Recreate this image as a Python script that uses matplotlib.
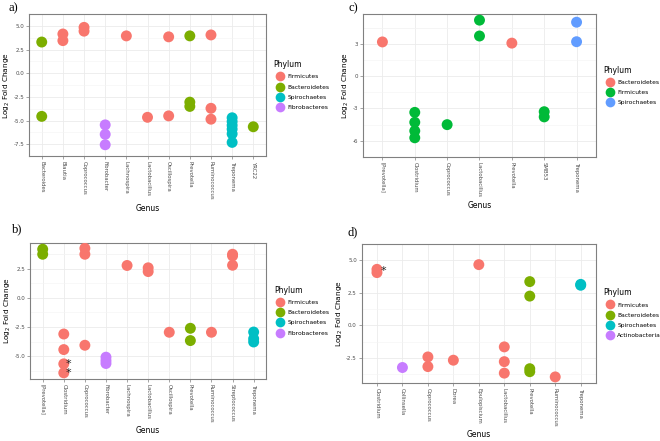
import matplotlib
matplotlib.use("Agg")
import matplotlib.pyplot as plt
from matplotlib.lines import Line2D

# ggplot hue colours
PAL4 = {'Firmicutes': '#F8766D', 'Bacteroidetes': '#7CAE00',
        'Spirochaetes': '#00BFC4', 'Fibrobacteres': '#C77CFF',
        'Actinobacteria': '#C77CFF'}
PAL3 = {'Bacteroidetes': '#F8766D', 'Firmicutes': '#00BA38',
        'Spirochaetes': '#619CFF'}

# ---- panel a ----
a_genera = ['Bacteroides', 'Blautia', 'Coprococcus', 'Fibrobacter', 'Lachnospira',
            'Lactobacillus', 'Oscillospira', 'Prevotella', 'Ruminococcus',
            'Treponema', 'YRC22']
a_genus = ['Bacteroides', 'Bacteroides', 'Blautia', 'Blautia', 'Coprococcus',
           'Coprococcus', 'Fibrobacter', 'Fibrobacter', 'Fibrobacter',
           'Lachnospira', 'Lactobacillus', 'Oscillospira', 'Oscillospira',
           'Prevotella', 'Prevotella', 'Prevotella', 'Ruminococcus',
           'Ruminococcus', 'Ruminococcus', 'Treponema', 'Treponema',
           'Treponema', 'Treponema', 'Treponema', 'Treponema', 'YRC22']
a_lfc = [3.3, -4.55, 4.15, 3.45, 4.85, 4.45, -5.45, -6.45, -7.55,
         3.95, -4.65, 3.85, -4.5, 3.95, -3.05, -3.5, 4.05, -3.7, -4.85,
         -4.7, -5.1, -5.5, -5.9, -6.4, -7.3, -5.65]
a_phylum = ['Bacteroidetes', 'Bacteroidetes', 'Firmicutes', 'Firmicutes',
            'Firmicutes', 'Firmicutes', 'Fibrobacteres', 'Fibrobacteres',
            'Fibrobacteres', 'Firmicutes', 'Firmicutes', 'Firmicutes',
            'Firmicutes', 'Bacteroidetes', 'Bacteroidetes', 'Bacteroidetes',
            'Firmicutes', 'Firmicutes', 'Firmicutes', 'Spirochaetes',
            'Spirochaetes', 'Spirochaetes', 'Spirochaetes', 'Spirochaetes',
            'Spirochaetes', 'Bacteroidetes']
a_legend = ['Firmicutes', 'Bacteroidetes', 'Spirochaetes', 'Fibrobacteres']
a_ticks = [5.0, 2.5, 0.0, -2.5, -5.0, -7.5]

# ---- panel b ----
b_genera = ['[Prevotella]', 'Clostridium', 'Coprococcus', 'Fibrobacter',
            'Lachnospira', 'Lactobacillus', 'Oscillospira', 'Prevotella',
            'Ruminococcus', 'Streptococcus', 'Treponema']
b_genus = ['[Prevotella]', '[Prevotella]', 'Clostridium', 'Clostridium',
           'Clostridium', 'Clostridium', 'Coprococcus', 'Coprococcus',
           'Coprococcus', 'Fibrobacter', 'Fibrobacter', 'Fibrobacter',
           'Lachnospira', 'Lactobacillus', 'Lactobacillus', 'Oscillospira',
           'Prevotella', 'Prevotella', 'Ruminococcus', 'Streptococcus',
           'Streptococcus', 'Streptococcus', 'Treponema', 'Treponema',
           'Treponema']
b_lfc = [4.15, 3.72, -3.1, -4.43, -5.65, -6.42, 4.23, 3.72, -4.06,
         -5.08, -5.37, -5.62, 2.76, 2.56, 2.24, -2.95, -2.61, -3.66,
         -2.95, 3.72, 3.58, 2.78, -2.93, -3.5, -3.78]
b_phylum = ['Bacteroidetes', 'Bacteroidetes', 'Firmicutes', 'Firmicutes',
            'Firmicutes', 'Firmicutes', 'Firmicutes', 'Firmicutes',
            'Firmicutes', 'Fibrobacteres', 'Fibrobacteres', 'Fibrobacteres',
            'Firmicutes', 'Firmicutes', 'Firmicutes', 'Firmicutes',
            'Bacteroidetes', 'Bacteroidetes', 'Firmicutes', 'Firmicutes',
            'Firmicutes', 'Firmicutes', 'Spirochaetes', 'Spirochaetes',
            'Spirochaetes']
b_star = [('Clostridium', -5.65), ('Clostridium', -6.42)]
b_legend = ['Firmicutes', 'Bacteroidetes', 'Spirochaetes', 'Fibrobacteres']
b_ticks = [2.5, 0.0, -2.5, -5.0]

# ---- panel c ----
c_genera = ['[Prevotella]', 'Clostridium', 'Coprococcus', 'Lactobacillus',
            'Prevotella', 'SMB53', 'Treponema']
c_genus = ['[Prevotella]', 'Clostridium', 'Clostridium', 'Clostridium',
           'Clostridium', 'Coprococcus', 'Lactobacillus', 'Lactobacillus',
           'Prevotella', 'SMB53', 'SMB53', 'Treponema', 'Treponema']
c_lfc = [3.17, -3.36, -4.28, -5.08, -5.72, -4.5, 5.19, 3.72, 3.06,
         -3.3, -3.78, 5.0, 3.19]
c_phylum = ['Bacteroidetes', 'Firmicutes', 'Firmicutes', 'Firmicutes',
            'Firmicutes', 'Firmicutes', 'Firmicutes', 'Firmicutes',
            'Bacteroidetes', 'Firmicutes', 'Firmicutes', 'Spirochaetes',
            'Spirochaetes']
c_legend = ['Bacteroidetes', 'Firmicutes', 'Spirochaetes']
c_ticks = [3, 0, -3, -6]

# ---- panel d ----
d_genera = ['Clostridium', 'Collinsella', 'Coprococcus', 'Dorea',
            'Epulopiscium', 'Lactobacillus', 'Prevotella', 'Ruminococcus',
            'Treponema']
d_genus = ['Clostridium', 'Clostridium', 'Collinsella', 'Coprococcus',
           'Coprococcus', 'Dorea', 'Epulopiscium', 'Lactobacillus',
           'Lactobacillus', 'Lactobacillus', 'Prevotella', 'Prevotella',
           'Prevotella', 'Prevotella', 'Ruminococcus', 'Treponema',
           'Treponema']
d_lfc = [4.3, 4.05, -3.22, -2.41, -3.15, -2.66, 4.66, -1.64, -2.77,
         -3.65, 3.36, 2.25, -3.31, -3.54, -3.94, 3.15, 3.08]
d_phylum = ['Firmicutes', 'Firmicutes', 'Actinobacteria', 'Firmicutes',
            'Firmicutes', 'Firmicutes', 'Firmicutes', 'Firmicutes',
            'Firmicutes', 'Firmicutes', 'Bacteroidetes', 'Bacteroidetes',
            'Bacteroidetes', 'Bacteroidetes', 'Firmicutes', 'Spirochaetes',
            'Spirochaetes']
d_star = [('Clostridium', 4.15)]
d_legend = ['Firmicutes', 'Bacteroidetes', 'Spirochaetes', 'Actinobacteria']
d_ticks = [5.0, 2.5, 0.0, -2.5]


def panel(ax, genera, genus, lfc, phylum, pal, legend, ticks, ylim, fmt,
          stars=()):
    xs = [genera.index(g) for g in genus]
    cols = [pal[p] for p in phylum]
    ax.scatter(xs, lfc, c=cols, s=62, zorder=3, linewidths=0)
    for g, v in stars:
        ax.text(genera.index(g) + 0.24, v, '*', fontsize=8, ha='center',
                va='center', color='#222222', zorder=4)
    ax.set_xlim(-0.6, len(genera) - 0.4)
    ax.set_ylim(*ylim)
    ax.set_xticks(range(len(genera)))
    ax.set_xticklabels(genera, rotation=-90, fontsize=3.9, color='#4D4D4D',
                       ha='center', va='top')
    ax.set_yticks(ticks)
    ax.set_yticklabels([fmt.format(t) for t in ticks], fontsize=4.0,
                       color='#4D4D4D')
    step = abs(ticks[0] - ticks[1])
    minors = [t + step / 2 for t in ticks] + [ticks[0] + step / 2, ticks[-1] - step / 2]
    ax.set_yticks(minors, minor=True)
    ax.tick_params(which='minor', length=0)
    ax.tick_params(which='major', length=2, width=0.5, color='#808080', pad=1.5)
    ax.grid(which='major', color='#EBEBEB', linewidth=0.6, zorder=0)
    ax.grid(which='minor', axis='y', color='#F4F4F4', linewidth=0.4, zorder=0)
    ax.set_axisbelow(True)
    for s in ax.spines.values():
        s.set_color('#808080')
        s.set_linewidth(0.8)
    ax.set_xlabel('Genus', fontsize=5.5, labelpad=3)
    ax.set_ylabel('Log$_2$ Fold Change', fontsize=5.3, labelpad=1)
    handles = [Line2D([], [], marker='o', linestyle='', markersize=7,
                      markerfacecolor=pal[p], markeredgewidth=0, label=p)
               for p in legend]
    ax.legend(handles=handles, title='Phylum', frameon=False,
              loc='center left', bbox_to_anchor=(1.01, 0.5),
              fontsize=4.3, title_fontsize=5.5, alignment='left',
              handletextpad=0.3, labelspacing=0.85, borderaxespad=0.5)


fig = plt.figure(figsize=(6.6, 4.41), dpi=100)
ax_a = fig.add_axes([0.044, 0.646, 0.359, 0.322])
ax_c = fig.add_axes([0.550, 0.644, 0.353, 0.324])
ax_b = fig.add_axes([0.0455, 0.141, 0.358, 0.309])
ax_d = fig.add_axes([0.548, 0.132, 0.355, 0.315])

panel(ax_a, a_genera, a_genus, a_lfc, a_phylum, PAL4, a_legend, a_ticks,
      (-8.07, 5.48), '{:.1f}')
panel(ax_b, b_genera, b_genus, b_lfc, b_phylum, PAL4, b_legend, b_ticks,
      (-6.93, 4.72), '{:.1f}', b_star)
panel(ax_c, c_genera, c_genus, c_lfc, c_phylum, PAL3, c_legend, c_ticks,
      (-6.14, 5.75), '{:d}')
panel(ax_d, d_genera, d_genus, d_lfc, d_phylum, PAL4, d_legend, d_ticks,
      (-4.39, 5.05), '{:.1f}', d_star)

for lab, x, y in [('a)', 13, 8), ('c)', 353, 8), ('b)', 17, 229), ('d)', 353, 232)]:
    fig.text(x / 660, 1 - y / 441, lab, fontsize=9, family='Liberation Serif',
             ha='center', va='center')

fig.savefig('out.png', dpi=100)
